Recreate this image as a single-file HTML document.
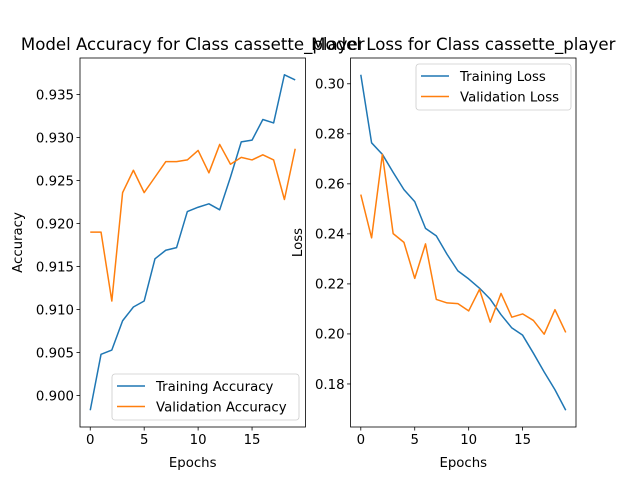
<!DOCTYPE html>
<html><head><meta charset="utf-8"><style>
body{margin:0;background:#fff}
svg{display:block;font-family:"DejaVu Sans","Liberation Sans",sans-serif}
</style></head><body>
<svg id="fig" width="640" height="480"></svg>
<script>
const epochs=[0,1,2,3,4,5,6,7,8,9,10,11,12,13,14,15,16,17,18,19];
const trainAcc=[0.8983,0.9048,0.9053,0.9087,0.9103,0.911,0.9159,0.9169,0.9172,0.9214,0.9219,0.9223,0.9216,0.9254,0.9295,0.9297,0.9321,0.9317,0.9373,0.9367];
const valAcc=[0.919,0.919,0.911,0.9236,0.9262,0.9236,0.9254,0.9272,0.9272,0.9274,0.9285,0.9259,0.9292,0.9269,0.9277,0.9274,0.928,0.9274,0.9228,0.9287];
const trainLoss=[0.3036,0.2764,0.2718,0.2646,0.2577,0.2529,0.2422,0.2392,0.2318,0.2252,0.222,0.2183,0.2139,0.2077,0.2024,0.1995,0.1923,0.1848,0.1777,0.1695];
const valLoss=[0.2557,0.2384,0.2718,0.2401,0.2366,0.2222,0.236,0.2138,0.2124,0.2121,0.2092,0.2178,0.2047,0.2162,0.2067,0.208,0.2054,0.1999,0.2097,0.2006];
const xTicks=[0,5,10,15];
const accTicks=[0.900,0.905,0.910,0.915,0.920,0.925,0.930,0.935];
const lossTicks=[0.18,0.20,0.22,0.24,0.26,0.28,0.30];

const NS="http://www.w3.org/2000/svg";
const svg=document.getElementById('fig');
function mk(tag,attrs,parent){const e=document.createElementNS(NS,tag);for(const k in attrs)e.setAttribute(k,attrs[k]);(parent||svg).appendChild(e);return e;}

function panel(cfg){
  const L=cfg.left,R=cfg.left+225.45,T=58,B=427;
  const all=cfg.series.flatMap(s=>s.data);
  const mn=Math.min(...all),mx=Math.max(...all),m=(mx-mn)*0.05;
  const y0=mn-m,y1=mx+m;
  const xmn=-0.95,xmx=19.95;
  const X=v=>L+(v-xmn)/(xmx-xmn)*(R-L);
  const Y=v=>B-(v-y0)/(y1-y0)*(B-T);
  const g=mk('g',{});
  
  
  cfg.series.forEach(s=>{
    const p=mk('polyline',{points:s.data.map((v,i)=>X(epochs[i])+','+Y(v)).join(' '),fill:'none',stroke:s.color,'stroke-width':1.5,'stroke-linejoin':'round'},g);
    
    
  });
  const fr=mk('rect',{x:L,y:T,width:R-L,height:B-T,fill:'none',stroke:'#000','stroke-width':0.8},g);
  
  
  xTicks.forEach(t=>{
    mk('line',{x1:X(t),x2:X(t),y1:B,y2:B+3.5,stroke:'#000','stroke-width':0.8},g);
    const tx=mk('text',{x:X(t),y:B+17,'font-size':'13.3px','text-anchor':'middle'},g);
    tx.textContent=t;
    
    
  });
  cfg.yTicks.forEach(t=>{
    mk('line',{x1:L-3.5,x2:L,y1:Y(t),y2:Y(t),stroke:'#000','stroke-width':0.8},g);
    const tx=mk('text',{x:L-6,y:Y(t)+4.8,'font-size':'13.3px','text-anchor':'end'},g);
    tx.textContent=t.toFixed(cfg.dec);
    
    
  });
  const xl=mk('text',{x:(L+R)/2,y:467,'font-size':'13.3px','text-anchor':'middle'},g);
  xl.textContent='Epochs';
  
  
  const yx=cfg.ylabX,yy=(T+B)/2;
  const yl=mk('text',{x:yx,y:yy,'font-size':'13.3px','text-anchor':'middle',transform:`rotate(-90 ${yx} ${yy})`},g);
  yl.textContent=cfg.ylabel;
  
  
  const ti=mk('text',{x:(L+R)/2,y:50,'font-size':'16.6px','text-anchor':'middle'},g);
  ti.textContent=cfg.title;
  
  
  const lg=mk('g',{},g);
  
  
  mk('rect',{x:cfg.lx,y:cfg.ly,width:cfg.lw,height:46,rx:3,fill:'#fff','fill-opacity':0.8,stroke:'#ccc','stroke-width':0.8},lg);
  cfg.series.forEach((s,i)=>{
    const yy2=cfg.ly+12+i*20.5;
    mk('line',{x1:cfg.lx+5,x2:cfg.lx+33,y1:yy2,y2:yy2,stroke:s.color,'stroke-width':1.5},lg);
    const t=mk('text',{x:cfg.lx+44,y:yy2+4.8,'font-size':'13.3px'},lg);
    t.textContent=s.label;
    
    
  });
}
panel({name:'accuracy-panel',left:80,title:'Model Accuracy for Class cassette_player',ylabel:'Accuracy',ylabX:22,dec:3,yTicks:accTicks,
  series:[{key:'training-accuracy-line',label:'Training Accuracy',color:'#1f77b4',data:trainAcc},{key:'validation-accuracy-line',label:'Validation Accuracy',color:'#ff7f0e',data:valAcc}],
  lx:112,ly:374,lw:187});
panel({name:'loss-panel',left:350.55,title:'Model Loss for Class cassette_player',ylabel:'Loss',ylabX:302,dec:2,yTicks:lossTicks,
  series:[{key:'training-loss-line',label:'Training Loss',color:'#1f77b4',data:trainLoss},{key:'validation-loss-line',label:'Validation Loss',color:'#ff7f0e',data:valLoss}],
  lx:416,ly:64,lw:155});
</script>
</body></html>
